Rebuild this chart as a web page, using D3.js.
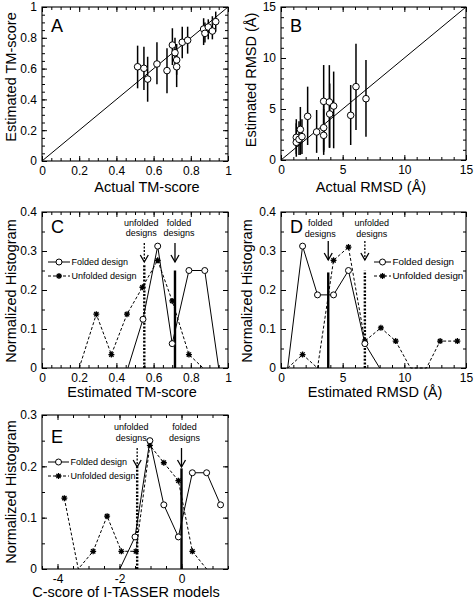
<!DOCTYPE html>
<html><head><meta charset="utf-8">
<script src="https://cdn.jsdelivr.net/npm/d3@7"></script>
<style>
body{margin:0;background:#fff}
svg{display:block;font-family:"Liberation Sans",Arial,Helvetica,sans-serif}
</style>
</head><body>
<svg id="c" width="474" height="602"></svg>
<script>
// ---------- Panel A: TM-score scatter ----------
const aActual = [0.514,0.548,0.568,0.618,0.672,0.701,0.715,0.724,0.724,0.754,0.783,0.869,0.876,0.894,0.916,0.934];
const aEst    = [0.612,0.602,0.532,0.630,0.587,0.753,0.703,0.656,0.612,0.771,0.784,0.857,0.829,0.870,0.844,0.905];
const aLow    = [0.472,0.461,0.385,0.498,0.440,0.623,0.600,0.560,0.480,0.667,0.697,0.753,0.770,0.790,0.790,0.840];
const aHigh   = [0.749,0.742,0.677,0.771,0.732,0.862,0.800,0.760,0.720,0.872,0.872,0.927,0.900,0.920,0.940,0.970];
// ---------- Panel B: RMSD scatter ----------
const bActual = [1.24,1.24,1.46,1.57,1.70,2.16,2.89,3.46,3.46,3.46,3.92,3.95,4.27,5.65,6.08,6.89];
const bEst    = [2.22,1.73,2.03,3.00,2.29,4.28,2.75,5.75,3.17,2.42,5.69,4.51,5.29,4.38,7.19,6.01];
const bLow    = [0.60,0.32,0.50,0.50,0.60,1.47,0.70,0.98,0.80,0.50,1.20,1.20,1.15,1.47,2.94,2.28];
const bHigh   = [4.00,3.60,3.80,5.20,4.00,7.19,4.90,9.31,5.50,5.00,9.30,7.50,8.67,7.35,11.40,9.80];
// ---------- Panel C: histogram of estimated TM-score ----------
const cFoldX   = [0.462,0.543,0.622,0.700,0.790,0.875,0.950];
const cFoldY   = [0,0.125,0.3125,0.0625,0.25,0.25,0];
const cUnfoldX = [0.200,0.292,0.373,0.457,0.540,0.622,0.700,0.790,0.866];
const cUnfoldY = [0,0.138,0.0345,0.138,0.207,0.276,0.172,0.0345,0];
const cCuts    = [{v:0.715,h:0.250,kind:"folded"},{v:0.550,h:0.265,kind:"unfolded"}];
// ---------- Panel D: histogram of estimated RMSD ----------
const dFoldX   = [0.54,1.75,2.96,4.26,5.47,6.80,8.00];
const dFoldY   = [0,0.3125,0.1875,0.1875,0.25,0.0625,0];
const dUnfoldX = [0.54,1.75,2.96,4.26,5.47,6.80,8.10,9.30,10.5,11.8,12.9,14.3];
const dUnfoldY = [0,0.0345,0,0.276,0.310,0.069,0.103,0.069,0,0,0.069,0.069];
const dCuts    = [{v:3.83,h:0.245,kind:"folded"},{v:6.80,h:0.250,kind:"unfolded"}];
// ---------- Panel E: histogram of C-score ----------
const eFoldX   = [-1.99,-1.50,-1.02,-0.57,-0.10,0.35,0.81,1.26];
const eFoldY   = [0,0.0625,0.25,0.125,0.0625,0.1875,0.1875,0.125];
const eUnfoldX = [-3.78,-3.33,-2.85,-2.40,-1.94,-1.47,-1.02,-0.57,-0.10,0.35,0.81];
const eUnfoldY = [0.138,0,0.0345,0.103,0.0345,0.0345,0.241,0.207,0.172,0.0345,0];
const eCuts    = [{v:0,h:0.196,kind:"folded"},{v:-1.43,h:0.200,kind:"unfolded"}];
// ---------- ticks ----------
const tmTicks   = [0,0.2,0.4,0.6,0.8,1];
const rmsdTicks = [0,5,10,15];
const histTicks = [0,0.1,0.2,0.3,0.4];
const eYTicks   = [0,0.1,0.2,0.3];
const eXTicks   = [-4,-2,0];
const diag = [[0,0],[1,1]];
const diagB = [[0,0],[15,15]];

const svg = d3.select("#c");
const fmt = d => String(+(+d).toFixed(2));

function panel(cfg){
  const g = svg.append("g").attr("transform",`translate(${cfg.x},${cfg.y})`);
  const x = d3.scaleLinear().domain(cfg.xd).range([0,cfg.w]);
  const y = d3.scaleLinear().domain(cfg.yd).range([cfg.h,0]);
  const xMin = d3.range(cfg.xd[0], cfg.xd[1]+1e-9, cfg.xm);
  const yMin = d3.range(cfg.yd[0], cfg.yd[1]+1e-9, cfg.ym);
  function ax(axis, tr, vals, size, labels){
    const a = g.append("g").attr("transform",tr)
      .call(axis.tickValues(vals).tickSizeInner(size).tickSizeOuter(0).tickPadding(5)
        .tickFormat(labels ? fmt : ""));
    a.select(".domain").remove();
    a.attr("font-size",12).attr("font-family",null);
    a.selectAll("line").attr("stroke","#000");
    a.selectAll("text").attr("fill","#000");
    return a;
  }
  ax(d3.axisBottom(x), `translate(0,${cfg.h})`, xMin, -3, false);
  ax(d3.axisTop(x), `translate(0,0)`, xMin, -3, false);
  ax(d3.axisLeft(y), `translate(0,0)`, yMin, -3, false);
  ax(d3.axisRight(y), `translate(${cfg.w},0)`, yMin, -3, false);
  ax(d3.axisBottom(x), `translate(0,${cfg.h})`, cfg.xt, -5, true);
  ax(d3.axisTop(x), `translate(0,0)`, cfg.xt, -5, false);
  ax(d3.axisLeft(y), `translate(0,0)`, cfg.yt, -5, true);
  ax(d3.axisRight(y), `translate(${cfg.w},0)`, cfg.yt, -5, false);
  g.append("rect").attr("width",cfg.w).attr("height",cfg.h)
    .attr("fill","none").attr("stroke","#000").attr("stroke-width",1.1);
  svg.append("text").attr("x",cfg.xtX).attr("y",cfg.xtY).attr("text-anchor","middle")
    .attr("font-size",14.5).text(cfg.xTitle);
  svg.append("text").attr("transform",`translate(${cfg.ytX},${cfg.ytY}) rotate(-90)`)
    .attr("text-anchor","middle").attr("font-size",14.5).text(cfg.yTitle);
  g.append("text").attr("x",cfg.lx).attr("y",cfg.ly).attr("font-size",18).text(cfg.letter);
  return {g,x,y};
}

function circle(g,cx,cy,r){
  g.append("circle").attr("cx",cx).attr("cy",cy).attr("r",r)
    .attr("fill","#fff").attr("stroke","#000").attr("stroke-width",1);
}
function star(g,cx,cy){
  const r=3;
  const p = d3.path();
  [[r,0],[0,r],[r*0.72,r*0.72],[r*0.72,-r*0.72]].forEach(([dx,dy])=>{p.moveTo(cx-dx,cy-dy);p.lineTo(cx+dx,cy+dy);});
  g.append("path").attr("d",p.toString()).attr("stroke","#000").attr("stroke-width",1.3).attr("fill","none");
}

function scatter(P, xs, ys, lo, hi, dg){
  const {g,x,y} = P;
  g.append("path").attr("d",d3.line().x(d=>x(d[0])).y(d=>y(d[1]))(dg))
    .attr("stroke","#000").attr("stroke-width",1).attr("fill","none");
  xs.forEach((v,i)=>{
    g.append("line").attr("x1",x(v)).attr("x2",x(v)).attr("y1",y(lo[i])).attr("y2",y(hi[i]))
      .attr("stroke","#000").attr("stroke-width",1.5);
  });
  xs.forEach((v,i)=>circle(g,x(v),y(ys[i]),3.3));
}

function hist(P, fx, fy, ux, uy, cuts, ann, leg){
  const {g,x,y} = P;
  const line = d3.line().x(d=>x(d[0])).y(d=>y(d[1]));
  const uPts = ux.map((v,i)=>[v,uy[i]]);
  const fPts = fx.map((v,i)=>[v,fy[i]]);
  cuts.forEach(c=>{
    g.append("line").attr("x1",x(c.v)).attr("x2",x(c.v)).attr("y1",y(0)).attr("y2",y(c.h))
      .attr("stroke","#000").attr("stroke-width",2.4)
      .attr("stroke-dasharray",c.kind==="unfolded"?"2,1.6":null);
    const ax0 = x(c.v), t = ann.tip;
    const a = g.append("g").attr("stroke","#000").attr("fill","none").attr("stroke-width",1.3);
    a.append("line").attr("x1",ax0).attr("x2",ax0).attr("y1",t-19).attr("y2",t)
      .attr("stroke-dasharray",c.kind==="unfolded"?"2,1.5":null);
    a.append("path").attr("d",`M${ax0-4},${t-7}L${ax0},${t}L${ax0+4},${t-7}`);
    const lab = c.kind==="unfolded" ? "unfolded" : "folded";
    const tx = ax0 + (ann.dx[c.kind]||0);
    g.append("text").attr("x",tx).attr("y",ann.y1).attr("text-anchor","middle").attr("font-size",9).text(lab);
    g.append("text").attr("x",tx).attr("y",ann.y2).attr("text-anchor","middle").attr("font-size",9).text("designs");
  });
  g.append("path").attr("d",line(uPts)).attr("stroke","#000").attr("stroke-width",1)
    .attr("stroke-dasharray","3,2").attr("fill","none");
  g.append("path").attr("d",line(fPts)).attr("stroke","#000").attr("stroke-width",1).attr("fill","none");
  uPts.forEach(d=>{ if(d[1]>0) star(g,x(d[0]),y(d[1])); });
  fPts.forEach(d=>{ if(d[1]>0) circle(g,x(d[0]),y(d[1]),3); });
  const L = svg.append("g");
  L.append("line").attr("x1",leg.x0).attr("x2",leg.x1).attr("y1",leg.y).attr("y2",leg.y).attr("stroke","#000");
  circle(L,(leg.x0+leg.x1)/2,leg.y,3);
  L.append("text").attr("x",leg.x1+1.5).attr("y",leg.y+3.3).attr("font-size",leg.fs).text("Folded design");
  L.append("line").attr("x1",leg.x0).attr("x2",leg.x1).attr("y1",leg.y+14).attr("y2",leg.y+14)
    .attr("stroke","#000").attr("stroke-dasharray","3,2");
  star(L,(leg.x0+leg.x1)/2,leg.y+14);
  L.append("text").attr("x",leg.x1+1.5).attr("y",leg.y+17.3).attr("font-size",leg.fs).text("Unfolded design");
}

// Panel A
const PA = panel({x:42,y:7,w:186,h:154,xd:[0,1],yd:[0,1],xt:tmTicks,yt:tmTicks,xm:0.05,ym:0.05,
  xTitle:"Actual TM-score",xtX:147,xtY:192,yTitle:"Estimated TM-score",ytX:16,ytY:77,letter:"A",lx:9,ly:25});
scatter(PA,aActual,aEst,aLow,aHigh,diag);
// Panel B
const PB = panel({x:281,y:7,w:185,h:153,xd:[0,15],yd:[0,15],xt:rmsdTicks,yt:rmsdTicks,xm:1,ym:1,
  xTitle:"Actual RMSD (Å)",xtX:371,xtY:192,yTitle:"Estimated RMSD (Å)",ytX:256,ytY:80,letter:"B",lx:9,ly:25});
scatter(PB,bActual,bEst,bLow,bHigh,diagB);
// Panel C
const PC = panel({x:42,y:212,w:186,h:156,xd:[0,1],yd:[0,0.4],xt:tmTicks,yt:histTicks,xm:0.05,ym:0.05,
  xTitle:"Estimated TM-score",xtX:132,xtY:397,yTitle:"Normalized Histogram",ytX:16,ytY:291,letter:"C",lx:9,ly:21});
hist(PC,cFoldX,cFoldY,cUnfoldX,cUnfoldY,cCuts,{tip:50,y1:13.5,y2:24,dx:{unfolded:-3,folded:4}},{x0:48,x1:70,y:262,fs:9});
// Panel D
const PD = panel({x:281,y:212,w:185,h:156,xd:[0,15],yd:[0,0.4],xt:rmsdTicks,yt:histTicks,xm:1,ym:0.05,
  xTitle:"Estimated RMSD (Å)",xtX:375,xtY:397,yTitle:"Normalized Histogram",ytX:252,ytY:291,letter:"D",lx:9,ly:21});
hist(PD,dFoldX,dFoldY,dUnfoldX,dUnfoldY,dCuts,{tip:48,y1:14,y2:24.5,dx:{unfolded:7,folded:-8}},{x0:374,x1:391,y:262,fs:9.8});
// Panel E
const PE = panel({x:42,y:415,w:186,h:154,xd:[-4.5,1.5],yd:[0,0.3],xt:eXTicks,yt:eYTicks,xm:0.5,ym:0.05,
  xTitle:"C-score of I-TASSER models",xtX:126,xtY:597,yTitle:"Normalized Histogram",ytX:16,ytY:492,letter:"E",lx:9,ly:28});
hist(PE,eFoldX,eFoldY,eUnfoldX,eUnfoldY,eCuts,{tip:52,y1:15,y2:25.5,dx:{unfolded:-6,folded:3}},{x0:48,x1:69,y:462,fs:9});
</script>
</body></html>
